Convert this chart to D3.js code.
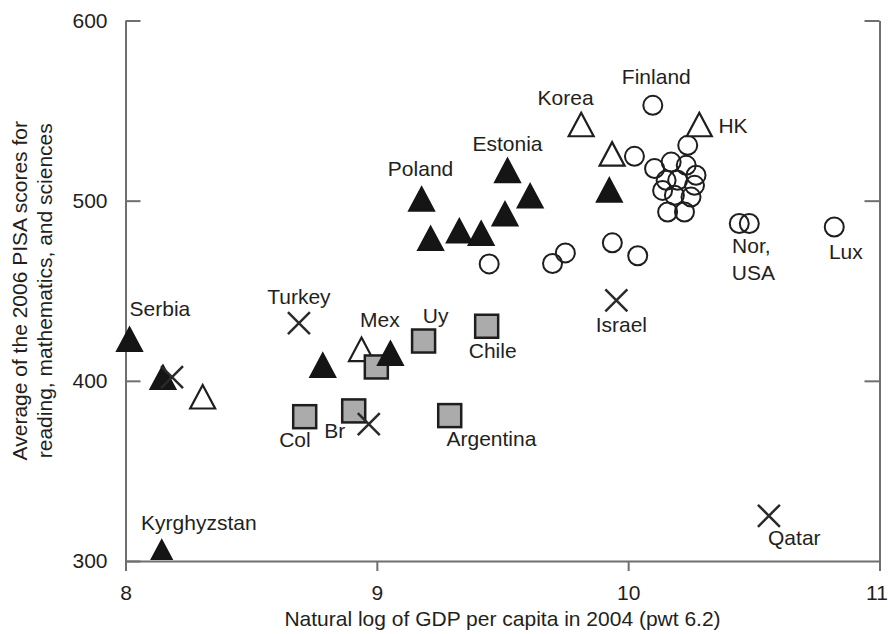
<!DOCTYPE html>
<html>
<head>
<meta charset="utf-8">
<title>PISA vs GDP</title>
<script src="https://d3js.org/d3.v7.min.js"></script>
<style>
    body { margin: 0; background: #fff; }
    svg text { font-family: "Liberation Sans", Arial, sans-serif; fill: #231f20; }
    .axis path, .axis line { stroke: #6f6f6f; stroke-width: 2; fill: none; }
    .axis text { font-size: 21px; }
    .lbl { font-size: 21px; }
</style>
</head>
<body>
<svg id="chart"></svg>
<script>
    // ---- data (ln GDP per capita, average PISA score) ----
    const filledX = [8.016, 8.149, 8.144, 8.785, 9.054, 9.178, 9.214, 9.328, 9.415, 9.510, 9.520, 9.610, 9.925];
    const filledY = [420.9, 399.8, 302.8, 406.5, 413.1, 498.7, 476.9, 481.1, 479.7, 490.5, 514.6, 500.5, 503.8];

    const openTriX = [8.307, 8.939, 9.813, 9.936, 10.283];
    const openTriY = [389.0, 415.3, 540.1, 523.8, 540.1];

    const squareX = [8.713, 8.908, 8.998, 9.186, 9.290, 9.437];
    const squareY = [380.1, 383.3, 407.7, 422.1, 380.7, 430.3];

    const crossX = [8.185, 8.690, 8.968, 9.953, 10.560];
    const crossY = [402.0, 432.0, 376.0, 444.7, 325.1];

    const circleX = [9.447, 9.699, 9.750, 9.937, 10.038, 10.098, 10.025,
        10.237, 10.171, 10.105, 10.231, 10.270, 10.264, 10.151, 10.137, 10.184, 10.250, 10.157, 10.224, 10.197,
        10.442, 10.482, 10.820];
    const circleY = [464.9, 465.1, 471.0, 476.6, 469.4, 552.9, 524.6,
        530.7, 521.4, 517.8, 519.6, 514.1, 508.5, 511.3, 505.7, 503.0, 502.0, 493.7, 493.7, 511.3,
        487.3, 487.3, 485.4];

    // country labels, anchored (middle / baseline) in data units
    const labelText = ["Serbia", "Turkey", "Mex", "Uy", "Chile", "Col", "Br", "Argentina", "Poland", "Estonia",
        "Korea", "Finland", "HK", "Israel", "Nor,", "USA", "Lux", "Qatar", "Kyrghyzstan"];
    const labelX = [8.137, 8.690, 9.012, 9.234, 9.461, 8.674, 8.833, 9.456, 9.174, 9.520,
        9.751, 10.112, 10.417, 9.973, 10.490, 10.498, 10.866, 10.661, 8.292];
    const labelY = [435.9, 442.8, 429.9, 432.3, 412.6, 363.2, 368.5, 364.0, 513.5, 527.4,
        552.9, 564.8, 537.3, 427.0, 470.8, 456.1, 467.9, 308.9, 317.2];

    const xTicks = [8, 9, 10, 11];
    const yTicks = [300, 400, 500, 600];

    const W = 888, H = 634;
    const svg = d3.select("#chart").attr("width", W).attr("height", H);

    const x = d3.scaleLinear().domain([8, 11]).range([125.5, 879.5]);
    const y = d3.scaleLinear().domain([300, 600]).range([561, 20.5]);

    // axes
    const xAxis = svg.append("g").attr("class", "axis")
        .attr("transform", "translate(0," + y(300) + ")")
        .call(d3.axisBottom(x).tickValues(xTicks).tickSize(10).tickSizeOuter(0).tickPadding(14)
            .tickFormat(d3.format("d")));
    // last label sits against the page edge
    xAxis.selectAll(".tick text").filter(d => d === 11).attr("dx", -3);

    svg.append("g").attr("class", "axis")
        .attr("transform", "translate(" + x(8) + ",0)")
        .call(d3.axisLeft(y).tickValues(yTicks).tickSize(-15).tickSizeOuter(0).tickPadding(18));

    svg.append("g").attr("class", "axis")
        .attr("transform", "translate(" + x(11) + ",0)")
        .call(d3.axisRight(y).tickValues([400, 500, 600]).tickSize(-15).tickSizeOuter(0).tickFormat(""));

    // axis titles
    svg.append("text")
        .attr("x", (x(8) + x(11)) / 2).attr("y", 626)
        .attr("text-anchor", "middle").style("font-size", "21px")
        .text("Natural log of GDP per capita in 2004 (pwt 6.2)");

    const yt = svg.append("text")
        .attr("transform", "translate(0," + ((y(300) + y(600)) / 2) + ") rotate(-90)")
        .attr("text-anchor", "middle").style("font-size", "21px");
    yt.append("tspan").attr("x", 0).attr("y", 27).text("Average of the 2006 PISA scores for");
    yt.append("tspan").attr("x", 0).attr("y", 52).text("reading, mathematics, and sciences");

    // marker helpers
    const triW = 25, triH = 23.5;
    const triPath = "M0," + (-2 * triH / 3) + "L" + (triW / 2) + "," + (triH / 3) + "L" + (-triW / 2) + "," + (triH / 3) + "Z";
    const zip = (a, b) => a.map((v, i) => [v, b[i]]);

    // open circles
    svg.append("g").selectAll("circle")
        .data(zip(circleX, circleY)).enter().append("circle")
        .attr("cx", d => x(d[0])).attr("cy", d => y(d[1])).attr("r", 9.5)
        .attr("fill", "none").attr("stroke", "#1e1e1e").attr("stroke-width", 2);

    // open triangles
    svg.append("g").selectAll("path")
        .data(zip(openTriX, openTriY)).enter().append("path")
        .attr("d", triPath)
        .attr("transform", d => "translate(" + x(d[0]) + "," + y(d[1]) + ")")
        .attr("fill", "#fff").attr("stroke", "#1e1e1e").attr("stroke-width", 2.2);

    // grey squares
    svg.append("g").selectAll("rect")
        .data(zip(squareX, squareY)).enter().append("rect")
        .attr("x", d => x(d[0]) - 11.5).attr("y", d => y(d[1]) - 11.5)
        .attr("width", 23).attr("height", 23)
        .attr("fill", "#ababab").attr("stroke", "#1e1e1e").attr("stroke-width", 2.5);

    // filled triangles (clipped at the x axis)
    svg.append("clipPath").attr("id", "plotclip").append("rect")
        .attr("x", 0).attr("y", 0).attr("width", W).attr("height", y(300) - 1);
    svg.append("g").attr("clip-path", "url(#plotclip)").selectAll("path")
        .data(zip(filledX, filledY)).enter().append("path")
        .attr("d", triPath)
        .attr("transform", d => "translate(" + x(d[0]) + "," + y(d[1]) + ")")
        .attr("fill", "#151515").attr("stroke", "#151515").attr("stroke-width", 2);

    // crosses
    const cs = 11;
    svg.append("g").selectAll("path")
        .data(zip(crossX, crossY)).enter().append("path")
        .attr("d", "M" + (-cs) + "," + (-cs) + "L" + cs + "," + cs + "M" + (-cs) + "," + cs + "L" + cs + "," + (-cs))
        .attr("transform", d => "translate(" + x(d[0]) + "," + y(d[1]) + ")")
        .attr("fill", "none").attr("stroke", "#2a2a2a").attr("stroke-width", 2.5);

    // labels
    svg.append("g").selectAll("text")
        .data(labelText).enter().append("text")
        .attr("class", "lbl")
        .attr("x", (d, i) => x(labelX[i])).attr("y", (d, i) => y(labelY[i]))
        .attr("text-anchor", "middle")
        .text(d => d);
</script>
</body>
</html>
